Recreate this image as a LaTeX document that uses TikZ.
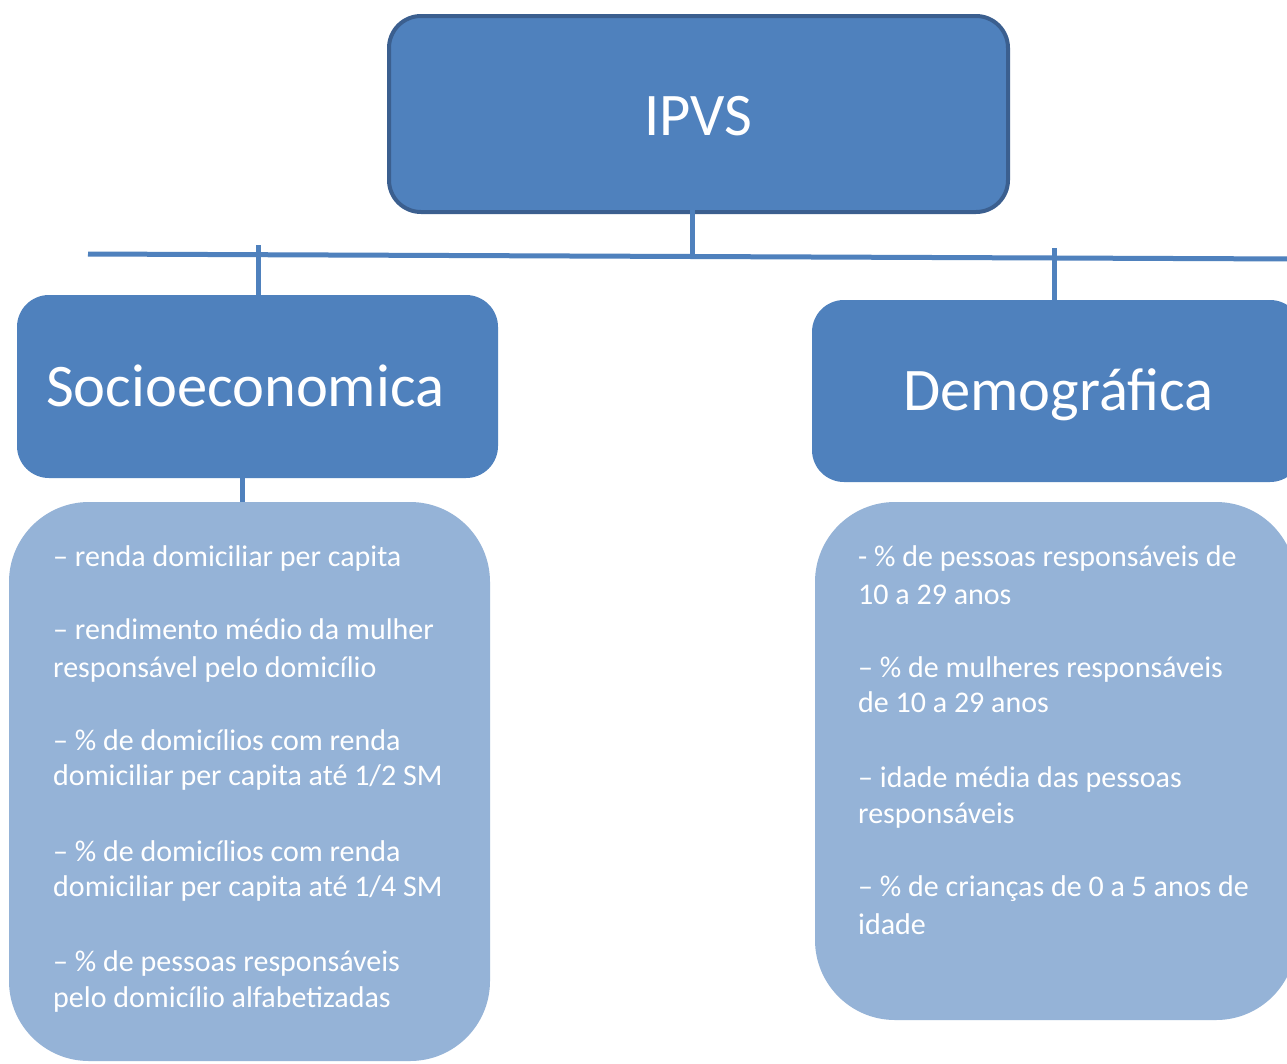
\documentclass[tikz,border=0pt]{standalone}
\usepackage{fontspec}
\setmainfont{Carlito}
\definecolor{dark}{HTML}{4F81BD}
\definecolor{edge}{HTML}{3B5F8F}
\definecolor{light}{HTML}{95B3D7}
\begin{document}
\begin{tikzpicture}[x=1pt,y=-1pt,
  topbox/.style={draw=edge, line width=4pt, fill=dark, rounded corners=32pt,
    minimum width=619pt, minimum height=196pt, inner sep=0pt},
  catbox/.style={fill=dark, rounded corners=32pt, inner sep=0pt},
  itembox/.style={fill=light, rounded corners=80pt, inner sep=0pt},
  title/.style={text=white, font=\fontsize{60.5}{70}\selectfont, inner sep=0pt, anchor=base west},
  item/.style={text=white, font=\fontsize{30}{36}\selectfont, inner sep=0pt, anchor=base west},
  conn/.style={draw=dark, line width=5pt}]
\useasboundingbox (0,0) rectangle (1287,1063);
\clip (0,0) rectangle (1287,1063);
\fill[white] (0,0) rectangle (1287,1063);

% boxes
\node[topbox] (ipvs) at (698.5,114) {};
\node[catbox, minimum width=481pt, minimum height=183pt] (socio) at (257.5,386.5) {};
\node[catbox, minimum width=490pt, minimum height=182pt] (demo) at (1057,391) {};
\node[itembox, minimum width=481pt, minimum height=559pt] (lsoc) at (249.5,781.5) {};
\node[itembox, minimum width=481pt, minimum height=518pt] (ldem) at (1055.5,761) {};

% connector points
\coordinate (busL) at (88,254);
\coordinate (busR) at (1295,259);
\coordinate (jTop) at (692,256.5);
\coordinate (sTop) at (692,160);
\coordinate (jL) at (258,245);
\coordinate (jR) at (1054,248);
\coordinate (sL) at (242,455);

\draw[conn] (busL) -- (busR);
\draw[conn] (sTop) -- (jTop);
\draw[conn] (jL) -- (jL |- socio.north);
\draw[conn] (jR) -- (jR |- demo.north);
\draw[conn] (sL) -- (sL |- lsoc.north);

% titles
\node[title] (tipvs) at (644,135) {IPVS};
\node[title] (tsoc) at (46,406) {Socioeconomica};
\node[title] (tdem) at (903,410) {Demográfica};

% left items
\node[item] (l1) at (53,566) {– renda domiciliar per capita};
\node[item] (l2) at (53,639) {– rendimento médio da mulher};
\node[item] (l3) at (53,677) {responsável pelo domicílio};
\node[item] (l4) at (53,750) {– \% de domicílios com renda};
\node[item] (l5) at (53,785) {domiciliar per capita até 1/2 SM};
\node[item] (l6) at (53,861) {– \% de domicílios com renda};
\node[item] (l7) at (53,896) {domiciliar per capita até 1/4 SM};
\node[item] (l8) at (53,971) {– \% de pessoas responsáveis};
\node[item] (l9) at (53,1007) {pelo domicílio alfabetizadas};

% right items
\node[item] (r1) at (858,566) {- \% de pessoas responsáveis de};
\node[item] (r2) at (858,604) {10 a 29 anos};
\node[item] (r3) at (858,677) {– \% de mulheres responsáveis};
\node[item] (r4) at (858,712) {de 10 a 29 anos};
\node[item] (r5) at (858,787) {– idade média das pessoas};
\node[item] (r6) at (858,823) {responsáveis};
\node[item] (r7) at (858,896) {– \% de crianças de 0 a 5 anos de};
\node[item] (r8) at (858,934) {idade};
\end{tikzpicture}
\end{document}
